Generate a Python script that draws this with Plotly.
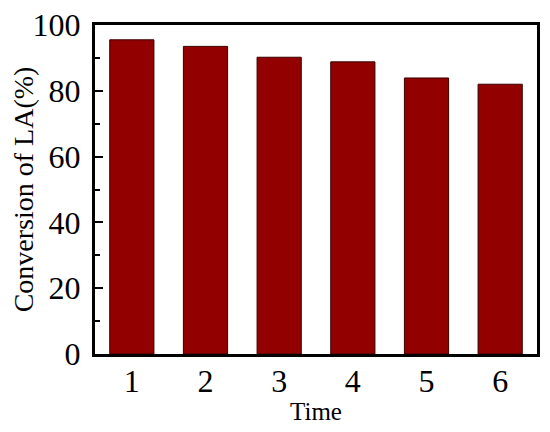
import plotly.graph_objects as go

times = [1, 2, 3, 4, 5, 6]
conversion = [95.5, 93.5, 90.2, 88.8, 83.9, 82.0]

bar_color = '#920000'
font_family = 'Liberation Serif, Times New Roman, serif'

fig = go.Figure()
fig.add_trace(go.Bar(
  x=times,
  y=conversion,
  width=0.6,
  marker=dict(color=bar_color, line=dict(color='#3a0000', width=1)),
))

# page body adds an 8px offset, margins compensate for it
fig.update_layout(
  width=550, height=432,
  margin=dict(l=87, r=21, t=17, b=86),
  paper_bgcolor='white', plot_bgcolor='white',
  showlegend=False,
  font=dict(family=font_family, color='black', size=32),
)
fig.update_xaxes(
  range=[0.5, 6.5],
  tickvals=times,
  showline=True, linecolor='black', linewidth=3, mirror=True,
  ticks='', showgrid=False, zeroline=False,
  tickfont=dict(size=32),
  ticklabelstandoff=-3,
  ticklabeloverflow='allow',
  automargin=False,
  title=dict(text='Time', font=dict(size=25), standoff=5),
)
fig.update_yaxes(
  range=[0, 100],
  tickvals=[0, 20, 40, 60, 80, 100],
  showline=True, linecolor='black', linewidth=3, mirror=True,
  ticks='inside', ticklen=8, tickwidth=2, tickcolor='black',
  minor=dict(ticks='inside', ticklen=5, tickwidth=2, tickcolor='black', tickvals=[10, 30, 50, 70, 90]),
  showgrid=False, zeroline=False,
  tickfont=dict(size=32),
  ticklabelstandoff=5,
  ticklabeloverflow='allow',
  automargin=False,
  title=dict(text='Conversion of LA(%)', font=dict(size=28), standoff=0),
)

fig.write_html("out.html")
